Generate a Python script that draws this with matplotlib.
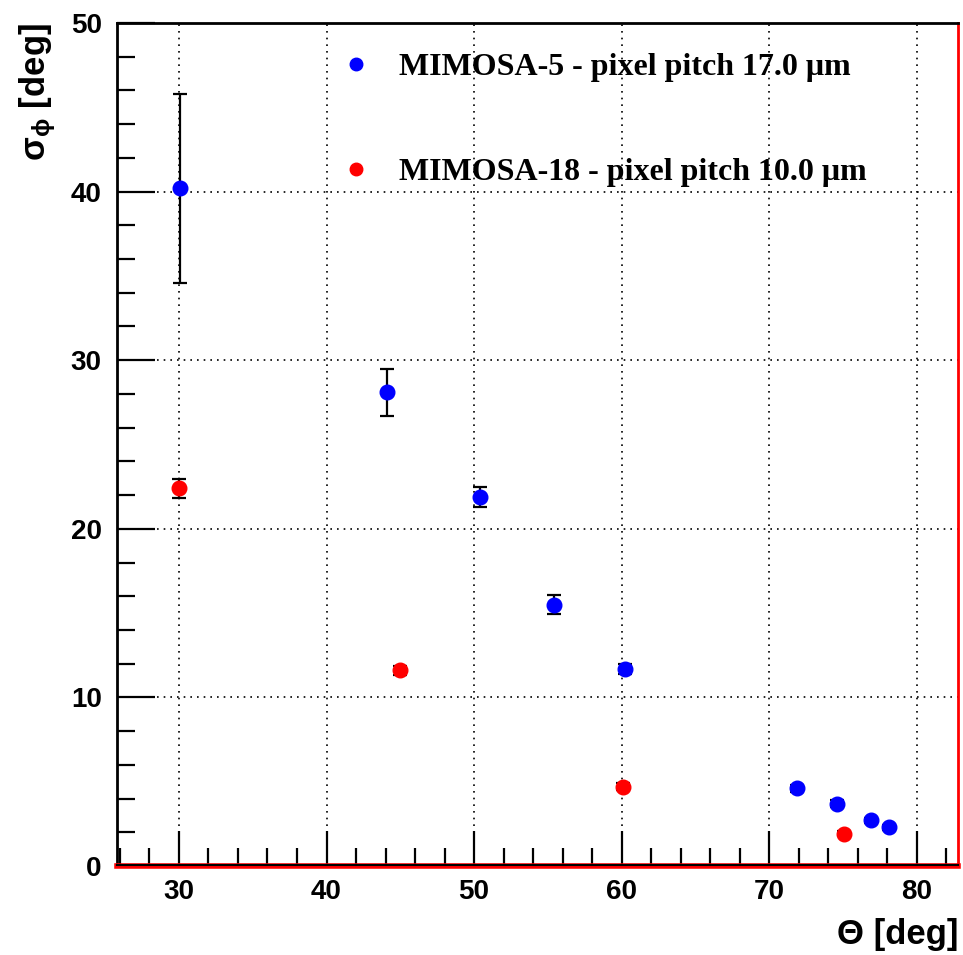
import matplotlib.pyplot as plt
from matplotlib.lines import Line2D
from matplotlib.ticker import MultipleLocator

plt.rcParams['mathtext.fontset'] = 'custom'
plt.rcParams['mathtext.rm'] = 'Liberation Sans:bold'
plt.rcParams['mathtext.default'] = 'regular'

# MIMOSA-5, pixel pitch 17 um
theta_m5 = [30.1, 44.1, 50.4, 55.4, 60.2, 71.9, 74.6, 76.9, 78.1]
sigma_m5 = [40.2, 28.1, 21.9, 15.5, 11.7, 4.6, 3.7, 2.7, 2.3]
err_m5 = [5.6, 1.4, 0.6, 0.55, 0.3, 0.2, 0.2, 0.15, 0.15]

# MIMOSA-18, pixel pitch 10 um
theta_m18 = [30.0, 45.0, 60.1, 75.1]
sigma_m18 = [22.4, 11.6, 4.7, 1.9]
err_m18 = [0.55, 0.25, 0.2, 0.15]

lbl_m5 = 'MIMOSA-5 - pixel pitch 17.0 \u03bcm'
lbl_m18 = 'MIMOSA-18 - pixel pitch 10.0 \u03bcm'

fig = plt.figure(figsize=(9.63, 9.55), dpi=100)
ax = fig.add_axes([117/963, 1 - 866/955, (958-117)/963, (866-23)/955])

ax.errorbar(theta_m5, sigma_m5, yerr=err_m5, fmt='o', color='blue', ms=10.5,
            ecolor='black', elinewidth=1.6, capsize=5, capthick=1.6, zorder=3)
ax.errorbar(theta_m18, sigma_m18, yerr=err_m18, fmt='o', color='red', ms=10.5,
            ecolor='black', elinewidth=1.6, capsize=5, capthick=1.6, zorder=3)

ax.set_xlim(25.8, 82.8)
ax.set_ylim(0, 50)
ax.xaxis.set_major_locator(MultipleLocator(10))
ax.xaxis.set_minor_locator(MultipleLocator(2))
ax.yaxis.set_major_locator(MultipleLocator(10))
ax.yaxis.set_minor_locator(MultipleLocator(2))
ax.tick_params(which='both', direction='in', top=False, right=False, width=1.6)
ax.tick_params(axis='y', which='major', length=27, pad=11)
ax.tick_params(axis='y', which='minor', length=13)
ax.tick_params(axis='x', which='major', length=25, pad=9)
ax.tick_params(axis='x', which='minor', length=13)
for t in ax.get_xticklabels() + ax.get_yticklabels():
    t.set_fontfamily('Liberation Sans')
    t.set_fontweight('bold')
    t.set_fontsize(20)

ax.grid(True, which='major', color='black', linestyle=(0, (1, 3)), linewidth=1.2)

for side in ['left', 'top']:
    ax.spines[side].set_color('black')
    ax.spines[side].set_linewidth(2)
ax.spines['right'].set_color('red')
ax.spines['right'].set_linewidth(2)
ax.spines['bottom'].set_color('red')
ax.spines['bottom'].set_linewidth(4)
ax.axhline(0.05, color='black', lw=1.5, zorder=4, clip_on=False)

ax.set_xlabel('\u0398 [deg]', fontfamily='Liberation Sans', fontweight='bold',
              fontsize=25, loc='right', labelpad=10)
ax.set_ylabel(r'$\sigma_{\phi}$ [deg]', fontfamily='Liberation Sans', fontweight='bold',
              fontsize=25, loc='top', labelpad=9)

handles = [
    Line2D([], [], ls='none', marker='o', color='blue', ms=9),
    Line2D([], [], ls='none', marker='o', color='red', ms=9),
]
ax.legend(handles, [lbl_m5, lbl_m18], loc='upper left',
          bbox_to_anchor=(0.2646, 0.9644), frameon=False,
          borderpad=0, borderaxespad=0,
          prop={'family': 'Liberation Serif', 'weight': 'bold', 'size': 23},
          labelspacing=2.35, handletextpad=0.85, handlelength=1.0)

fig.savefig('out.png', dpi=100)
